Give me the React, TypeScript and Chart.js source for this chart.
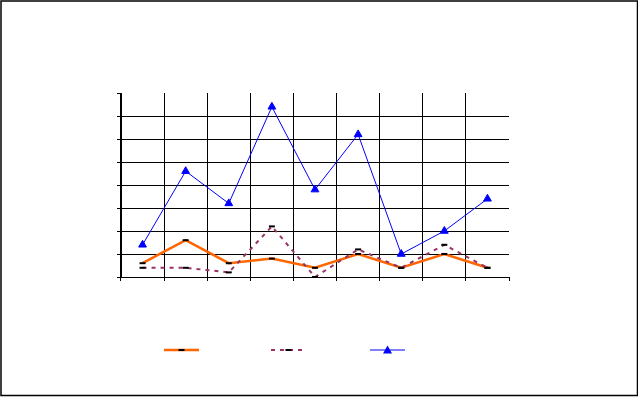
import React, { useEffect, useRef } from 'react';
import { Chart, registerables } from 'chart.js';

Chart.register(...registerables);

const categories = ['1', '2', '3', '4', '5', '6', '7', '8', '9'];
const seriesOrange = [0.6, 1.6, 0.6, 0.8, 0.4, 1.0, 0.4, 1.0, 0.4];
const seriesPurple = [0.4, 0.4, 0.2, 2.2, 0.0, 1.2, 0.4, 1.4, 0.4];
const seriesBlue = [1.4, 4.6, 3.2, 7.4, 3.8, 6.2, 1.0, 2.0, 3.4];
const seriesNames = ['Series 1', 'Series 2', 'Series 3'];
const yMin = 0;
const yMax = 8;
const yStep = 1;

const W = 638;
const H = 397;
const legendStarts = [164, 271, 370];
const legendY = 350;
const legendLen = 35;

const framePlugin = {
  id: 'frameAndLegend',
  afterDraw(chart: any) {
    const ctx = chart.ctx as CanvasRenderingContext2D;
    ctx.save();
    // outer frame
    ctx.strokeStyle = '#000';
    ctx.lineWidth = 1.5;
    ctx.strokeRect(1, 1, chart.width - 1.5, chart.height - 2.5);
    // legend samples
    chart.data.datasets.forEach((ds: any, i: number) => {
      const x0 = legendStarts[i];
      const cx = x0 + legendLen / 2;
      ctx.save();
      ctx.strokeStyle = ds.borderColor;
      ctx.lineWidth = ds.borderWidth;
      ctx.setLineDash(ds.borderDash || []);
      ctx.beginPath();
      ctx.moveTo(x0, legendY);
      ctx.lineTo(x0 + legendLen, legendY);
      ctx.stroke();
      ctx.restore();
      if (ds.pointStyle === 'triangle') {
        const r = ds.pointRadius;
        ctx.fillStyle = ds.pointBackgroundColor;
        ctx.beginPath();
        ctx.moveTo(cx, legendY - r);
        ctx.lineTo(cx + r, legendY + r * 0.75);
        ctx.lineTo(cx - r, legendY + r * 0.75);
        ctx.closePath();
        ctx.fill();
      } else {
        ctx.fillStyle = '#000';
        ctx.fillRect(cx - 3, legendY - 1, 6, 2);
      }
    });
    ctx.restore();
  },
};

export default function App() {
  const ref = useRef<HTMLCanvasElement | null>(null);

  useEffect(() => {
    document.body.style.margin = '0';
    const canvas = ref.current!;
    const chart = new Chart(canvas, {
      type: 'line',
      data: {
        labels: categories,
        datasets: [
          {
            label: seriesNames[0],
            data: seriesOrange,
            borderColor: '#FF6600',
            backgroundColor: '#FF6600',
            borderWidth: 2.5,
            pointStyle: 'line',
            pointRadius: 3,
            pointBorderColor: '#000',
            pointBorderWidth: 2,
            pointBackgroundColor: '#000',
            tension: 0,
            order: 3,
          },
          {
            label: seriesNames[1],
            data: seriesPurple,
            borderColor: '#993366',
            backgroundColor: '#993366',
            borderWidth: 2,
            borderDash: [4, 5],
            pointStyle: 'line',
            pointRadius: 3,
            pointBorderColor: '#000',
            pointBorderWidth: 2,
            pointBackgroundColor: '#000',
            tension: 0,
            order: 2,
          },
          {
            label: seriesNames[2],
            data: seriesBlue,
            borderColor: '#0000FF',
            backgroundColor: '#0000FF',
            borderWidth: 1,
            pointStyle: 'triangle',
            pointRadius: 4.5,
            pointBorderColor: '#0000FF',
            pointBorderWidth: 1,
            pointBackgroundColor: '#0000FF',
            tension: 0,
            order: 1,
          },
        ],
      },
      options: {
        animation: false,
        responsive: false,
        devicePixelRatio: 1,
        layout: { padding: { left: 117, right: 129, top: 93, bottom: 116 } },
        plugins: {
          legend: { display: false },
          tooltip: { enabled: false },
          title: { display: false },
        },
        scales: {
          x: {
            type: 'category',
            offset: true,
            grid: {
              offset: true,
              color: (c: any) => (c.type === 'tick' ? '#000' : 'rgba(0,0,0,0)'),
              tickColor: '#000',
              tickLength: 4,
              lineWidth: 1,
            },
            border: { display: true, color: '#000', width: 1 },
            ticks: { display: false },
          },
          y: {
            min: yMin,
            max: yMax,
            ticks: { display: false, stepSize: yStep },
            grid: {
              color: (c: any) => (c.tick && c.tick.value === yMax ? 'rgba(0,0,0,0)' : '#000'),
              tickColor: '#000',
              tickLength: 4,
              lineWidth: 1,
            },
            border: { display: true, color: '#000', width: 1 },
          },
        },
      },
      plugins: [framePlugin],
    });
    return () => chart.destroy();
  }, []);

  return (
    <div style={{ position: 'fixed', left: 0, top: 0, width: W, height: H, background: '#fff' }}>
      <canvas ref={ref} width={W} height={H} style={{ width: W, height: H, display: 'block' }} />
    </div>
  );
}
